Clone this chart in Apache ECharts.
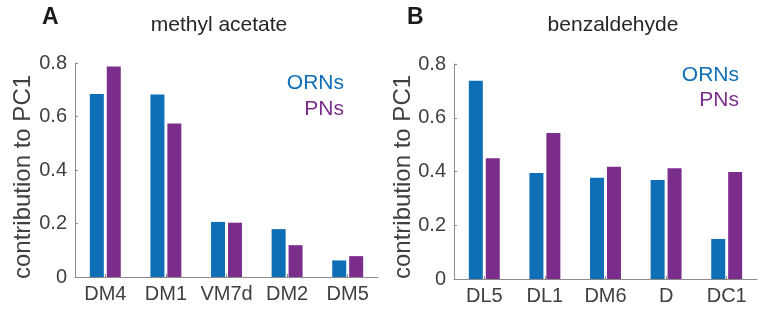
<!DOCTYPE html>
<html>
<head>
<meta charset="utf-8">
<script src="https://cdn.jsdelivr.net/npm/echarts@6/dist/echarts.min.js"></script>
<style>html,body{margin:0;padding:0;background:#fff;}#c{width:763px;height:323px;}</style>
</head>
<body>
<div id="c"></div>
<script>
var catsA = ['DM4', 'DM1', 'VM7d', 'DM2', 'DM5'];
var ornA = [0.684, 0.682, 0.206, 0.179, 0.062];
var pnA = [0.787, 0.574, 0.203, 0.119, 0.078];

var catsB = ['DL5', 'DL1', 'DM6', 'D', 'DC1'];
var ornB = [0.738, 0.394, 0.377, 0.368, 0.149];
var pnB = [0.449, 0.543, 0.418, 0.412, 0.398];

var yTicks = [0, 0.2, 0.4, 0.6, 0.8];
var titles = ['methyl acetate', 'benzaldehyde'];
var panelLetters = ['A', 'B'];
var seriesNames = ['ORNs', 'PNs'];
var yLabel = 'contribution to PC1';

var BLUE = '#0e6fb7';
var PURPLE = '#7b2d8c';
var TXT = '#404040';
var AX = '#8a8a8a';
var FONT = '"Liberation Sans", Arial, Helvetica, sans-serif';

function xAxis(idx, cats) {
  return {
    type: 'category', gridIndex: idx, data: cats,
    axisLine: {lineStyle: {color: AX, width: 1}},
    axisTick: {show: true, inside: true, length: 3, alignWithLabel: true, lineStyle: {color: AX}},
    axisLabel: {color: TXT, fontSize: 20, fontFamily: FONT, margin: 7, interval: 0}
  };
}
function yAxis(idx) {
  return {
    type: 'value', gridIndex: idx, min: yTicks[0], max: yTicks[yTicks.length - 1], interval: yTicks[1] - yTicks[0],
    axisLine: {show: true, lineStyle: {color: AX, width: 1}},
    axisTick: {show: true, inside: true, length: 3, lineStyle: {color: AX}},
    splitLine: {show: false},
    axisLabel: {color: TXT, fontSize: 20, fontFamily: FONT, margin: 8,
      formatter: function (v) { return v === 0 ? '0' : v.toFixed(1); }}
  };
}
function bar(name, idx, data, color) {
  return {
    name: name, type: 'bar', xAxisIndex: idx, yAxisIndex: idx, data: data,
    barWidth: 14, barGap: '21%', itemStyle: {color: color}, silent: true
  };
}

var chart = echarts.init(document.getElementById('c'), null, {renderer: 'canvas'});
chart.setOption({
  animation: false,
  grid: [
    {left: 75, top: 63, width: 303, height: 214},
    {left: 454, top: 64, width: 303, height: 215}
  ],
  xAxis: [xAxis(0, catsA), xAxis(1, catsB)],
  yAxis: [yAxis(0), yAxis(1)],
  series: [
    bar(seriesNames[0], 0, ornA, BLUE),
    bar(seriesNames[1], 0, pnA, PURPLE),
    bar(seriesNames[0], 1, ornB, BLUE),
    bar(seriesNames[1], 1, pnB, PURPLE)
  ],
  graphic: [
    {type: 'text', left: 42, top: 6, style: {text: panelLetters[0], font: 'bold 23px ' + FONT, fill: '#1a1a1a'}},
    {type: 'text', left: 407, top: 6, style: {text: panelLetters[1], font: 'bold 23px ' + FONT, fill: '#1a1a1a'}},
    {type: 'text', x: 219, y: 25, style: {text: titles[0], font: '21px ' + FONT, fill: '#262626', textAlign: 'center', textVerticalAlign: 'middle'}},
    {type: 'text', x: 613, y: 25, style: {text: titles[1], font: '21px ' + FONT, fill: '#262626', textAlign: 'center', textVerticalAlign: 'middle'}},
    {type: 'text', x: 23, y: 177, rotation: Math.PI / 2, style: {text: yLabel, font: '24px ' + FONT, fill: TXT, textAlign: 'center', textVerticalAlign: 'middle'}},
    {type: 'text', x: 403, y: 177, rotation: Math.PI / 2, style: {text: yLabel, font: '24px ' + FONT, fill: TXT, textAlign: 'center', textVerticalAlign: 'middle'}},
    {type: 'text', x: 344, y: 83, style: {text: seriesNames[0], font: '21px ' + FONT, fill: BLUE, textAlign: 'right', textVerticalAlign: 'middle'}},
    {type: 'text', x: 344, y: 109, style: {text: seriesNames[1], font: '21px ' + FONT, fill: PURPLE, textAlign: 'right', textVerticalAlign: 'middle'}},
    {type: 'text', x: 739, y: 75, style: {text: seriesNames[0], font: '21px ' + FONT, fill: BLUE, textAlign: 'right', textVerticalAlign: 'middle'}},
    {type: 'text', x: 739, y: 100, style: {text: seriesNames[1], font: '21px ' + FONT, fill: PURPLE, textAlign: 'right', textVerticalAlign: 'middle'}}
  ]
});
</script>
</body>
</html>
